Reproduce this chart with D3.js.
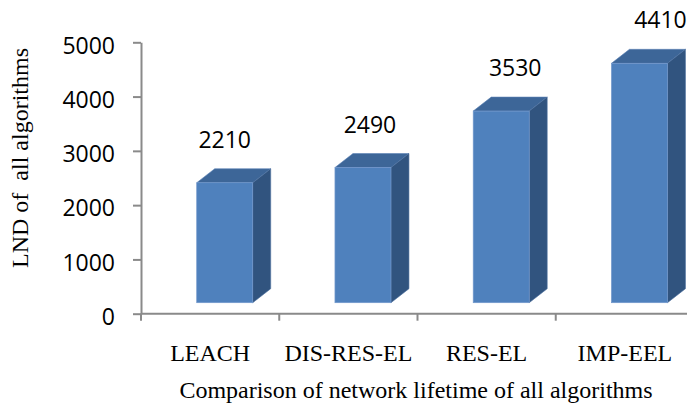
<!DOCTYPE html>
<html>
<head>
<meta charset="utf-8">
<script src="https://cdn.jsdelivr.net/npm/d3@7"></script>
<style>
  html, body { margin: 0; padding: 0; background: #ffffff; }
  svg { display: block; }
</style>
</head>
<body>
<div id="chart"></div>
<script>
// Network lifetime (LND) per clustering algorithm
const categories = ["LEACH", "DIS-RES-EL", "RES-EL", "IMP-EEL"];
const lndValues = [2210, 2490, 3530, 4410];
const yTickValues = [0, 1000, 2000, 3000, 4000, 5000];
const yAxisTitle = "LND of  all algorithms";
const xAxisTitle = "Comparison of network lifetime of all algorithms";

const W = 687, H = 412;
const svg = d3.select("#chart").append("svg")
  .attr("width", W).attr("height", H);

const x = d3.scaleBand().domain(categories).range([141, 694]).padding(0);
const y = d3.scaleLinear().domain([0, 5000]).range([313.7, 42.3]);

// 3D box geometry
const depthX = 18, depthY = 14, floorLift = 11;
const barW = x.bandwidth() * 0.405;
const barOffset = x.bandwidth() * 0.403;

const axisColor = "#8a8a8a";
const numFont = "'Open Sans', 'DejaVu Sans', sans-serif";
const serifFont = "'Liberation Serif', 'Times New Roman', serif";

// Y axis
const yAxis = svg.append("g")
  .attr("transform", "translate(141,0)")
  .call(d3.axisLeft(y).tickValues(yTickValues).tickSize(8).tickSizeOuter(0).tickFormat(d3.format("d")));
yAxis.select(".domain").attr("stroke", axisColor).attr("stroke-width", 2);
yAxis.selectAll(".tick line").attr("stroke", axisColor).attr("stroke-width", 2);
yAxis.selectAll(".tick text")
  .attr("x", -26).attr("dy", null).attr("y", 10.7)
  .attr("text-anchor", "end")
  .style("font-family", numFont).style("font-size", "23px").attr("fill", "#000");

// X axis line and category boundary ticks
const xAxisG = svg.append("g");
xAxisG.append("line")
  .attr("x1", x.range()[0]).attr("x2", x.range()[1])
  .attr("y1", y(0)).attr("y2", y(0))
  .attr("stroke", axisColor).attr("stroke-width", 2);
xAxisG.selectAll("line.tick").data(categories).join("line")
  .attr("class", "tick")
  .attr("x1", d => x(d)).attr("x2", d => x(d))
  .attr("y1", y(0)).attr("y2", y(0) + 7)
  .attr("stroke", axisColor).attr("stroke-width", 2);
xAxisG.selectAll("text").data(categories).join("text")
  .attr("x", d => x(d) + x.bandwidth() / 2)
  .attr("y", 361)
  .attr("text-anchor", "middle")
  .style("font-family", serifFont).style("font-size", "24px")
  .attr("fill", "#000")
  .text(d => d);

// Bars drawn as 3D boxes: front face, top face, side face
const rows = categories.map((c, i) => ({ cat: c, value: lndValues[i], i }));
const bars = svg.append("g").selectAll("g").data(rows).join("g");

const fx = d => x(d.cat) + barOffset;
const topY = d => y(d.value) - floorLift;
const botY = () => y(0) - floorLift;

bars.append("path")
  .attr("fill", "#3d6698")
  .attr("stroke", "#5a82b5").attr("stroke-width", 0.6)
  .attr("d", d => {
    const l = fx(d), t = topY(d);
    return `M${l},${t}L${l + depthX},${t - depthY}L${l + barW + depthX},${t - depthY}L${l + barW},${t}Z`;
  });
bars.append("path")
  .attr("fill", "#31547f")
  .attr("stroke", "#4d71a0").attr("stroke-width", 0.6)
  .attr("d", d => {
    const l = fx(d) + barW, t = topY(d), b = botY();
    return `M${l},${t}L${l + depthX},${t - depthY}L${l + depthX},${b - depthY}L${l},${b}Z`;
  });
bars.append("rect")
  .attr("fill", "#4f81bd")
  .attr("stroke", "#7298cc").attr("stroke-width", 0.7)
  .attr("x", fx)
  .attr("y", topY)
  .attr("width", barW)
  .attr("height", d => botY() - topY(d));

// Value labels above each bar
bars.append("text")
  .attr("x", d => fx(d) + barW / 2 + d.i * 7)
  .attr("y", d => topY(d) - 35)
  .attr("text-anchor", "middle")
  .style("font-family", numFont).style("font-size", "23px")
  .attr("fill", "#000")
  .text(d => d.value);

// Axis titles
svg.append("text")
  .attr("transform", "translate(28,158) rotate(-90)")
  .attr("text-anchor", "middle")
  .style("font-family", serifFont).style("font-size", "24px")
  .style("white-space", "pre")
  .attr("fill", "#000")
  .text(yAxisTitle);

svg.append("text")
  .attr("x", 416).attr("y", 398)
  .attr("text-anchor", "middle")
  .style("font-family", serifFont).style("font-size", "24px")
  .attr("fill", "#000")
  .text(xAxisTitle);
</script>
</body>
</html>
